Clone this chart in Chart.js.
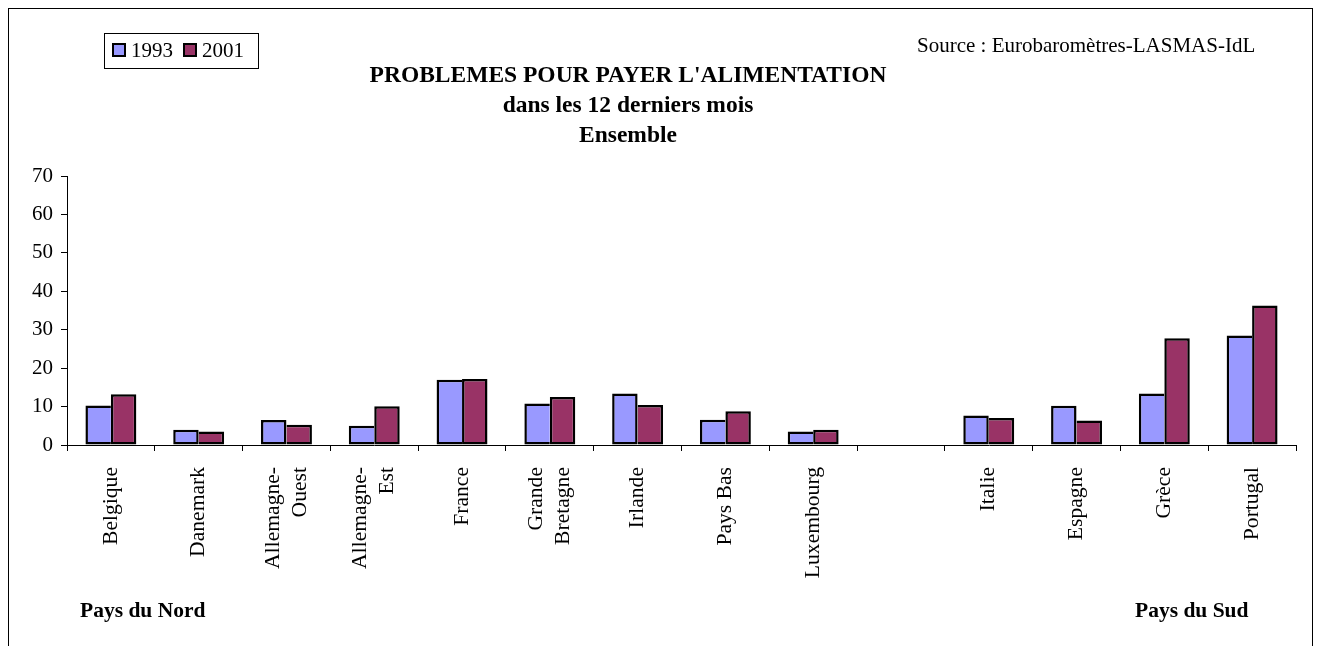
<!DOCTYPE html>
<html>
<head>
<meta charset="utf-8">
<script src="https://cdn.jsdelivr.net/npm/chart.js@4/dist/chart.umd.min.js"></script>
<style>
  html, body { margin: 0; padding: 0; background: #fff; }
  #wrap { width: 1319px; height: 646px; position: relative; }
</style>
</head>
<body>
<div id="wrap"><canvas id="chart"></canvas></div>
<script>
// data
const pays = [
    'Belgique', 'Danemark', ['Allemagne-', 'Ouest'], ['Allemagne-', 'Est'], 'France',
    ['Grande', 'Bretagne'], 'Irlande', 'Pays Bas', 'Luxembourg', '',
    'Italie', 'Espagne', 'Grèce', 'Portugal'
];
const val1993 = [10.3, 4.0, 6.5, 5.0, 17.0, 10.8, 13.4, 6.6, 3.5, null, 7.7, 10.2, 13.4, 28.5];
const val2001 = [13.2, 3.5, 5.3, 10.1, 17.2, 12.5, 10.4, 8.8, 4.0, null, 7.0, 6.4, 27.8, 36.3];
const annees = ['1993', '2001'];
const titre = ["PROBLEMES POUR PAYER L'ALIMENTATION", 'dans les 12 derniers mois', 'Ensemble'];
const source = 'Source : Eurobaromètres-LASMAS-IdL';

const SERIF = "'Liberation Serif', 'Times New Roman', serif";
const colors = ['#9999FF', '#993366'];
const bw = 2.5;

// the two bars of a country share one dividing line: the taller bar draws it
function border1993(c) {
    const i = c.dataIndex;
    const right = (val1993[i] >= val2001[i]) ? bw : 0;
    return { top: bw, left: bw, bottom: bw, right: right };
}
function border2001(c) {
    const i = c.dataIndex;
    const left = (val2001[i] > val1993[i]) ? bw : 0;
    return { top: bw, left: left, bottom: bw, right: bw };
}

// frame, titles, legend and footnotes drawn on the canvas
const decor = {
    id: 'decor',
    afterLayout(chart) {
        // centre the two-line category labels on their tick
        const sx = chart.scales.x;
        sx.getLabelItems(chart.chartArea).forEach(item => {
            if (Array.isArray(item.label)) {
                item.textOffset -= (item.label.length - 1) * item.font.lineHeight / 2;
            }
        });
    },
    afterDraw(chart) {
        const ctx = chart.ctx;
        ctx.save();
        ctx.strokeStyle = '#000';
        ctx.lineWidth = 1;
        ctx.strokeRect(8.5, 8.5, 1304, 700);

        ctx.fillStyle = '#000';
        ctx.textAlign = 'center';
        ctx.textBaseline = 'middle';
        ctx.font = 'bold 23.5px ' + SERIF;
        ctx.fillText(titre[0], 628, 76);
        ctx.fillText(titre[1], 628, 106);
        ctx.fillText(titre[2], 628, 136);

        ctx.font = '21px ' + SERIF;
        ctx.textAlign = 'left';
        ctx.fillText(source, 917, 46);

        // legend
        ctx.strokeRect(104.5, 33.5, 154, 35);
        const lx = [113, 184];
        chart.data.datasets.forEach((ds, i) => {
            ctx.fillStyle = ds.backgroundColor;
            ctx.fillRect(lx[i], 44, 12, 12);
            ctx.lineWidth = 2;
            ctx.strokeRect(lx[i], 44, 12, 12);
            ctx.fillStyle = '#000';
            ctx.fillText(ds.label, lx[i] + 18, 51);
        });

        ctx.font = 'bold 21.5px ' + SERIF;
        ctx.fillText('Pays du Nord', 80, 611);
        ctx.fillText('Pays du Sud', 1135, 611);
        ctx.restore();
    }
};

new Chart(document.getElementById('chart'), {
    type: 'bar',
    data: {
        labels: pays,
        datasets: [
            { label: annees[0], data: val1993, backgroundColor: colors[0], borderWidth: border1993 },
            { label: annees[1], data: val2001, backgroundColor: colors[1], borderWidth: border2001 }
        ]
    },
    options: {
        responsive: true,
        maintainAspectRatio: false,
        animation: false,
        devicePixelRatio: 1,
        layout: { padding: { left: 0, right: 23, top: 176, bottom: 0 } },
        datasets: {
            bar: {
                borderColor: '#000',
                borderSkipped: false,
                barPercentage: 1,
                categoryPercentage: 0.58
            }
        },
        plugins: {
            legend: { display: false },
            tooltip: { enabled: false },
            title: { display: false }
        },
        scales: {
            x: {
                grid: { drawOnChartArea: false, drawTicks: true, tickLength: 6, color: '#000', offset: true },
                border: { color: '#000', width: 1 },
                ticks: {
                    color: '#000',
                    font: { family: SERIF, size: 21.6, lineHeight: 1.25 },
                    minRotation: 90,
                    maxRotation: 90,
                    autoSkip: false,
                    padding: 16
                },
                afterFit(scale) { scale.height = 201; }
            },
            y: {
                min: 0,
                max: 70,
                grid: { drawOnChartArea: false, drawTicks: true, tickLength: 6, color: '#000' },
                border: { color: '#000', width: 1 },
                ticks: {
                    stepSize: 10,
                    color: '#000',
                    font: { family: SERIF, size: 21 },
                    padding: 8
                },
                afterFit(scale) { scale.width = 67; }
            }
        }
    },
    plugins: [decor]
});
</script>
</body>
</html>
